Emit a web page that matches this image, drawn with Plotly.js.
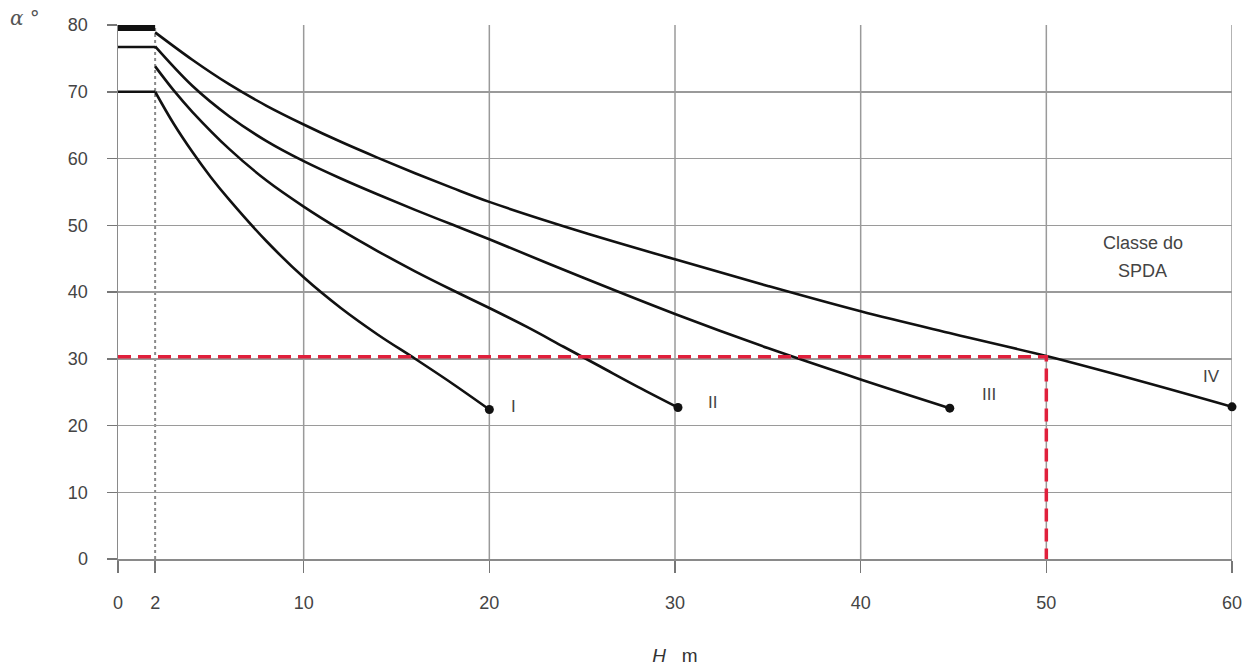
<!DOCTYPE html>
<html>
<head>
<meta charset="utf-8">
<script src="https://cdn.plot.ly/plotly-3.0.1.min.js"></script>
<style>html,body{margin:0;padding:0;background:#fff;}#chart{width:1256px;height:668px;}</style>
</head>
<body>
<div id="chart"></div>
<script>
// Curve data: H (m) vs protection angle alpha (degrees), per SPDA class
const classNames = ["I", "II", "III", "IV"];
const hI   = [2, 3, 4, 5, 6, 8, 10, 12, 14, 16, 18, 20];
const aI   = [70, 65.2, 61, 57.2, 53.8, 47.6, 42.2, 37.6, 33.6, 30, 26.3, 22.4];
const hII  = [2, 3, 4, 6, 8, 10, 12, 14, 16, 18, 20, 22, 24, 26, 28, 30.16];
const aII  = [73.8, 70.2, 67, 61.4, 56.7, 52.8, 49.3, 46.1, 43.1, 40.3, 37.6, 34.8, 31.8, 28.8, 25.8, 22.7];
const hIII = [2, 4, 6, 8, 10, 12, 14, 16, 18, 20, 25, 30, 35, 40, 44.8];
const aIII = [76.8, 70.9, 66.3, 62.6, 59.6, 57.0, 54.6, 52.3, 50.1, 47.9, 42.2, 36.7, 31.6, 26.9, 22.6];
const hIV  = [2, 4, 6, 8, 10, 12, 14, 16, 18, 20, 25, 30, 35, 40, 45, 50, 55, 60];
const aIV  = [78.9, 74.8, 71.1, 67.9, 65.1, 62.5, 60.1, 57.8, 55.6, 53.5, 49.0, 44.9, 40.9, 37.1, 33.7, 30.4, 26.7, 22.8];

// Horizontal stubs between H = 0 and H = 2
const stubH = [0, 2];
const stubAngles = [70, 76.7, 79.7];
const stubWidths = [2.5, 2.5, 8];

// Reading example (red dashed)
const exampleH = 50;
const exampleAlpha = 30.3;

// Axis ticks
const xTicks = [0, 2, 10, 20, 30, 40, 50, 60];
const xGrid = [10, 20, 30, 40, 50, 60];
const yTicks = [0, 10, 20, 30, 40, 50, 60, 70, 80];

// Class label positions
const labelH = [21.3, 32, 46.9, 58.9];
const labelA = [22.9, 23.5, 24.6, 27.3];

const FONT = "Liberation Sans, Arial, sans-serif";
const curves = [[hI, aI], [hII, aII], [hIII, aIII], [hIV, aIV]];
const traces = [];
curves.forEach(function (c) {
  traces.push({
    x: c[0], y: c[1], type: "scatter", mode: "lines",
    line: {color: "#111", width: 2.6, shape: "spline", smoothing: 1},
    cliponaxis: false, showlegend: false
  });
});
// end markers
traces.push({
  x: curves.map(c => c[0][c[0].length - 1]),
  y: curves.map(c => c[1][c[1].length - 1]),
  type: "scatter", mode: "markers",
  marker: {color: "#111", size: 9},
  cliponaxis: false, showlegend: false
});
stubAngles.forEach(function (a, i) {
  traces.push({
    x: stubH, y: [a, a], type: "scatter", mode: "lines",
    line: {color: "#111", width: stubWidths[i]},
    cliponaxis: false, showlegend: false
  });
});
// red dashed reading lines
traces.push({
  x: [0, exampleH, exampleH], y: [exampleAlpha, exampleAlpha, 0],
  type: "scatter", mode: "lines",
  line: {color: "#e0203c", width: 3.5, dash: "13px,7px"},
  cliponaxis: false, showlegend: false
});

const shapes = [];
xGrid.forEach(function (v) {
  shapes.push({type: "line", xref: "x", yref: "y", x0: v, x1: v, y0: 0, y1: 80,
    line: {color: "#9a9a9a", width: 1.5}, layer: "below"});
});
shapes.push({type: "line", xref: "x", yref: "y", x0: 2, x1: 2, y0: 0, y1: 80,
  line: {color: "#8a8a8a", width: 2, dash: "dot"}, layer: "below"});

const annotations = [];
classNames.forEach(function (n, i) {
  annotations.push({x: labelH[i], y: labelA[i], xref: "x", yref: "y", text: n, showarrow: false,
    font: {family: FONT, size: 17, color: "#444"}});
});
annotations.push({x: 55.2, y: 47.4, xref: "x", yref: "y", text: "Classe do", showarrow: false,
  font: {family: FONT, size: 18, color: "#444"}});
annotations.push({x: 55.2, y: 43.1, xref: "x", yref: "y", text: "SPDA", showarrow: false,
  font: {family: FONT, size: 18, color: "#444"}});
annotations.push({
  x: (8 - 118) / (1256 - 118 - 24), y: 1 + (25 - 18) / (668 - 25 - 109),
  xref: "paper", yref: "paper", xanchor: "left", yanchor: "middle",
  text: "<i>α</i> °", showarrow: false,
  font: {family: "DejaVu Serif, serif", size: 20, color: "#555"}});

const layout = {
  width: 1256, height: 668,
  margin: {l: 118, r: 24, t: 25, b: 109},
  paper_bgcolor: "#fff", plot_bgcolor: "#fff",
  showlegend: false,
  xaxis: {
    range: [0, 60], tickvals: xTicks, ticktext: xTicks.map(String),
    showgrid: false, zeroline: false, showline: true, linecolor: "#8a8a8a", linewidth: 1.5,
    ticks: "outside", ticklen: 12, tickcolor: "#777", tickwidth: 1.5,
    ticklabelstandoff: 15,
    tickfont: {family: FONT, size: 18, color: "#444"},
    title: {text: "<i>H</i>   m", standoff: 36,
      font: {family: FONT, size: 19, color: "#333"}}
  },
  yaxis: {
    range: [0, 80], tickvals: yTicks,
    showgrid: true, gridcolor: "#9a9a9a", gridwidth: 1.5,
    zeroline: false, showline: true, linecolor: "#8a8a8a", linewidth: 1.5,
    ticks: "outside", ticklen: 10, tickcolor: "#777", tickwidth: 1.5,
    ticklabelstandoff: 15,
    tickfont: {family: FONT, size: 18, color: "#444"}
  },
  shapes: shapes,
  annotations: annotations
};

Plotly.newPlot("chart", traces, layout, {displayModeBar: false, staticPlot: true});
</script>
</body>
</html>
